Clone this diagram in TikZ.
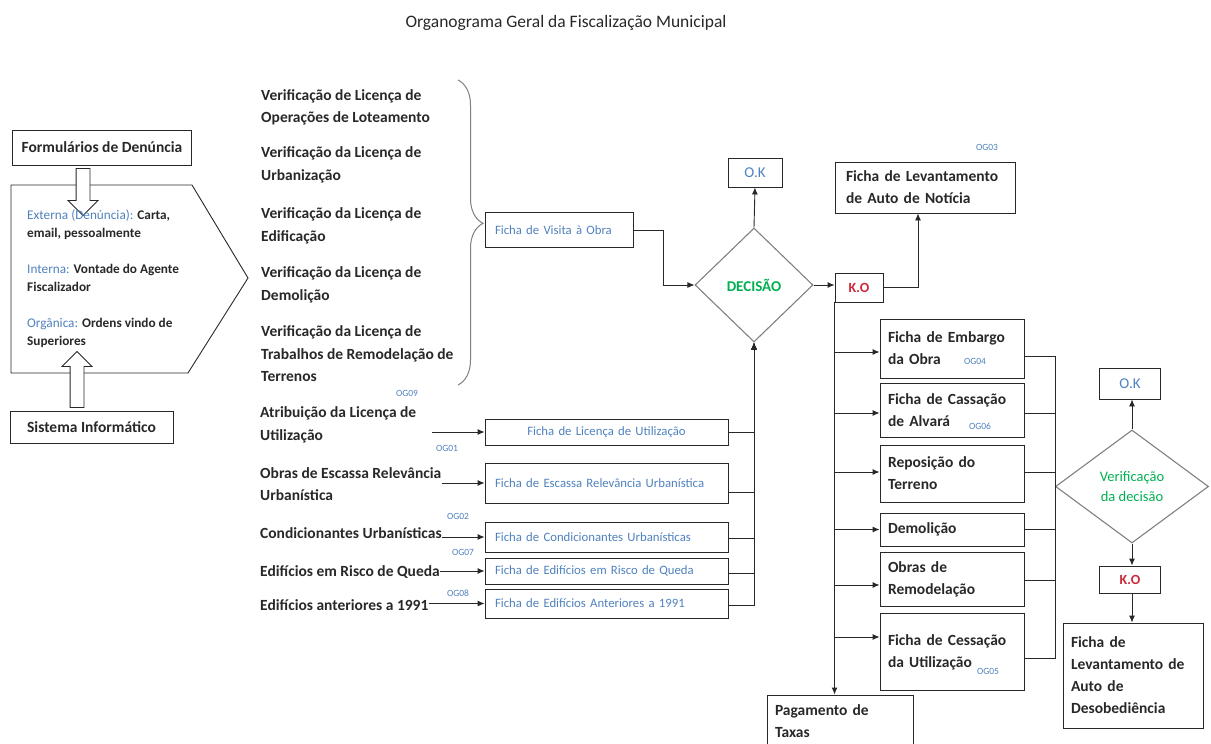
\documentclass[tikz,border=0pt]{standalone}
\usepackage{fontspec}
\setmainfont{Carlito}
\usetikzlibrary{shapes.geometric,shapes.arrows,decorations.pathreplacing,arrows.meta}
\definecolor{azul}{RGB}{79,129,189}
\definecolor{verde}{RGB}{0,176,80}
\definecolor{vermelho}{RGB}{204,40,60}
\definecolor{cinza}{RGB}{128,128,128}
\definecolor{tinta}{RGB}{40,40,40}
\begin{document}
\begin{tikzpicture}
	[x=1pt,y=-1pt,inner sep=0pt,
	texto/.style={anchor=west,text=tinta,align=left,font=\fontsize{15.5}{22.5}\selectfont\bfseries},
	origem/.style={anchor=west,text=tinta,align=left,font=\fontsize{13.25}{18}\selectfont\bfseries},
	caixa/.style={draw=tinta,line width=0.9pt,text=tinta,align=left,inner xsep=8pt,font=\fontsize{15.5}{22}\selectfont\bfseries},
	ficha/.style={draw=tinta,line width=0.9pt,text=azul,align=left,inner xsep=10pt,font=\fontsize{12.75}{15}\selectfont},
	larga/.style={text width=223pt},
	estado/.style={draw=tinta,line width=0.9pt,align=center},
	og/.style={text=azul,font=\fontsize{9.5}{11}\selectfont},
	losango/.style={diamond,draw=cinza,line width=1.1pt,align=center,text=verde},
	oco/.style={single arrow,draw=tinta,fill=white,line width=0.8pt,inner xsep=0pt,inner ysep=6.5pt,single arrow head extend=8pt},
	seta/.style={draw=tinta,line width=0.9pt,-{Latex[length=7pt,width=6pt]}},
	liga/.style={draw=tinta,line width=0.9pt}]
	\useasboundingbox (0,0) rectangle (1211,744);
	\clip (0,0) rectangle (1211,744);
	\path node at (566,23) [text=tinta,font=\fontsize{17.5}{20}\selectfont] (titulo) {Organograma Geral da Fiscalização Municipal};
	\draw[draw=tinta,line width=0.9pt] (11,185) -- (192,185) -- (248,278) -- (188,373) -- (11,373) -- cycle;
	\path node at (102,147.5) [caixa,align=center,minimum width=179pt,minimum height=35pt] (form) {Formulários de Denúncia}
		  node at (91.5,427) [caixa,align=center,minimum width=163pt,minimum height=32pt] (sist) {Sistema Informático}
		  node at (83,188.5) [oco,rotate=-90,minimum height=47pt] (setaform) {}
		  node at (77,383) [oco,rotate=90,minimum height=56pt] (setasist) {}
		  node at (27,225) [origem] (externa) {\textcolor{azul}{\mdseries Externa (Denúncia):} Carta,\\email, pessoalmente}
		  node at (27,278) [origem] (interna) {\textcolor{azul}{\mdseries Interna:} Vontade do Agente\\Fiscalizador}
		  node at (27,333) [origem] (organica) {\textcolor{azul}{\mdseries Orgânica:} Ordens vindo de\\Superiores};
	\path node at (261,107.5) [texto] (v1) {Verificação de Licença de\\Operações de Loteamento}
		  node at (261,165) [texto] (v2) {Verificação da Licença de\\Urbanização}
		  node at (261,226) [texto] (v3) {Verificação da Licença de\\Edificação}
		  node at (261,285) [texto] (v4) {Verificação da Licença de\\Demolição}
		  node at (261,354) [texto] (v5) {Verificação da Licença de\\Trabalhos de Remodelação de\\Terrenos}
		  node at (260,425) [texto] (latr) {Atribuição da Licença de\\Utilização}
		  node at (260,484) [texto] (lobr) {Obras de Escassa Relevância\\Urbanística}
		  node at (260,533) [texto] (lcon) {Condicionantes Urbanísticas}
		  node at (260,572) [texto] (lris) {Edifícios em Risco de Queda}
		  node at (260,605) [texto] (lant) {Edifícios anteriores a 1991};
	\draw[draw=cinza,line width=1pt,decorate,decoration={brace,amplitude=25pt,aspect=0.47}] (458,80) -- (458,385);
	\path node at (559,230) [ficha,text width=128pt,minimum height=35pt] (visita) {Ficha de Visita à Obra}
		  node at (606.5,432) [ficha,larga,align=center,minimum height=26pt] (flu) {Ficha de Licença de Utilização}
		  node at (606.5,483) [ficha,larga,minimum height=40pt] (fer) {Ficha de Escassa Relevância Urbanística}
		  node at (606.5,537) [ficha,larga,minimum height=30pt] (fcu) {Ficha de Condicionantes Urbanísticas}
		  node at (606.5,571) [ficha,larga,minimum height=26pt] (fri) {Ficha de Edifícios em Risco de Queda}
		  node at (606.5,603.5) [ficha,larga,minimum height=29pt] (fan) {Ficha de Edifícios Anteriores a 1991};
	\path node at (407,393) [og] (og09) {OG09}
		  node at (447,448) [og] (og01) {OG01}
		  node at (458,516) [og] (og02) {OG02}
		  node at (463,552) [og] (og07) {OG07}
		  node at (458,593) [og] (og08) {OG08}
		  node at (987,147) [og] (og03) {OG03}
		  node at (975,361) [og] (og04) {OG04}
		  node at (980,426) [og] (og06) {OG06}
		  node at (988,671) [og] (og05) {OG05};
	\path node at (754,285) [losango,minimum width=118pt,minimum height=114pt,font=\fontsize{15}{17}\selectfont\bfseries] (decisao) {DECISÃO}
		  node at (755,172.5) [estado,minimum width=54pt,minimum height=29pt,text=azul,font=\fontsize{15}{17}\selectfont] (ok1) {O.K}
		  node at (859,287.5) [estado,minimum width=48pt,minimum height=29pt,text=vermelho,font=\fontsize{14}{16}\selectfont\bfseries] (ko1) {K.O}
		  node at (925,187.5) [caixa,inner xsep=11pt,text width=158pt,minimum height=51pt] (auto1) {Ficha de Levantamento\\de Auto de Notícia}
		  node at (840,721) [caixa,text width=130pt,minimum height=52pt] (pag) {Pagamento de\\Taxas};
	\path node at (952,348.5) [caixa,text width=128pt,minimum height=59pt] (emb) {Ficha de Embargo\\da Obra}
		  node at (952,410) [caixa,text width=128pt,minimum height=54pt] (cas) {Ficha de Cassação\\de Alvará}
		  node at (952,473.5) [caixa,text width=128pt,minimum height=57pt] (rep) {Reposição do\\Terreno}
		  node at (952,529.5) [caixa,text width=128pt,minimum height=33pt] (dem) {Demolição}
		  node at (952,579) [caixa,text width=128pt,minimum height=54pt] (obr) {Obras de\\Remodelação}
		  node at (952,651.5) [caixa,text width=128pt,minimum height=77pt,text depth=22pt] (ces) {Ficha de Cessação\\da Utilização};
	\path node at (1132,486.5) [losango,minimum width=153pt,minimum height=113pt,font=\fontsize{14.5}{20}\selectfont] (verif) {Verificação\\da decisão}
		  node at (1130,383.5) [estado,minimum width=61pt,minimum height=31pt,text=azul,font=\fontsize{15}{17}\selectfont] (ok2) {O.K}
		  node at (1130,579.5) [estado,minimum width=61pt,minimum height=27pt,text=vermelho,font=\fontsize{14}{16}\selectfont\bfseries] (ko2) {K.O}
		  node at (1133,675.5) [caixa,text width=124pt,minimum height=105pt] (fin) {Ficha de\\Levantamento de\\Auto de\\Desobediência};
	\draw[seta] ([xshift=-53pt]flu.west) -- (flu.west);
	\foreach \r/\f in {lobr/fer,lcon/fcu,lris/fri,lant/fan}
		\draw[seta] (\r.east |- \f.west) -- (\f.west);
	\foreach \f/\d in {flu/0,fer/-9,fcu/-1,fri/-2,fan/-1.5}
		\draw[seta] ([yshift=\d pt]\f.east) -| (decisao.south);
	\draw[seta] (visita.east) -- ++(30,0) |- (decisao.west);
	\draw[seta] (decisao.north) -- (ok1.south);
	\draw[seta] (decisao.east) -- (decisao.east -| ko1.west);
	\draw[seta] (ko1.east) -| ([xshift=-7pt]auto1.south);
	\draw[seta] (ko1.south west) -- (ko1.south west |- pag.north);
	\foreach \f/\d in {emb/-3.5,cas/-3,rep/1.5,dem/0,obr/-6,ces/14.5}
		\draw[seta] (ko1.south west) |- ([yshift=\d pt]\f.west);
	\foreach \f/\d in {emb/-7.5,cas/-3,rep/1.5,dem/0,obr/-1,ces/-6.5}
		\draw[liga] ([yshift=\d pt]\f.east) -| (verif.west);
	\draw[seta] (verif.north) -- (verif.north |- ok2.south);
	\draw[seta] (verif.south) -- (verif.south |- ko2.north);
	\draw[seta] (verif.south |- ko2.south) -- (verif.south |- fin.north);
\end{tikzpicture}
\end{document}
